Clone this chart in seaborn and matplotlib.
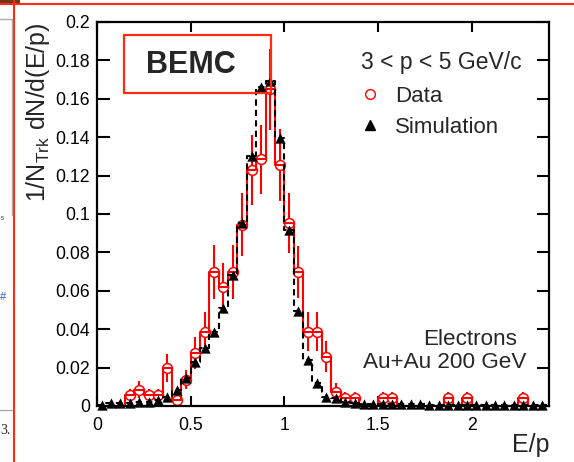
import numpy as np
import pandas as pd
import matplotlib
matplotlib.use("Agg")
import matplotlib.pyplot as plt
from matplotlib.lines import Line2D
from matplotlib.patches import Rectangle
import seaborn as sns

# E/p binning: 48 bins of 0.05 from 0 to 2.4
bin_edges = np.linspace(0, 2.4, 49)
bin_centers = 0.5 * (bin_edges[:-1] + bin_edges[1:])

data_vals = [0, 0, 0, 0.0057, 0.0084, 0.0057, 0.0057, 0.0197, 0.0031, 0.0136,
             0.0278, 0.0388, 0.0696, 0.0618, 0.0696, 0.0945, 0.1229, 0.1285, 0.165, 0.1255,
             0.0954, 0.0696, 0.0388, 0.0388, 0.0257, 0.0075, 0.004, 0.004, 0, 0,
             0.004, 0.004, 0, 0, 0, 0, 0, 0.004, 0, 0.004,
             0, 0, 0, 0, 0, 0.004, 0, 0]
data_errs = [0, 0, 0, 0.003, 0.0044, 0.003, 0.003, 0.0074, 0.003, 0.005,
             0.0083, 0.010, 0.014, 0.0126, 0.014, 0.0165, 0.018, 0.018, 0.021, 0.0187,
             0.0157, 0.0135, 0.0104, 0.0104, 0.008, 0.0045, 0.0035, 0.0035, 0, 0,
             0.0035, 0.0035, 0, 0, 0, 0, 0, 0.0035, 0, 0.0035,
             0, 0, 0, 0, 0, 0.0035, 0, 0]
sim_vals = [0.0005, 0.0017, 0.0017, 0.0017, 0.002, 0.0022, 0.0031, 0.0045, 0.0084, 0.0145,
            0.0231, 0.0301, 0.0383, 0.051, 0.0684, 0.0954, 0.130, 0.1659, 0.1693, 0.1398,
            0.0919, 0.0496, 0.024, 0.0118, 0.0049, 0.004, 0.0022, 0.0017, 0.0013, 0.0011,
            0.001, 0.0009, 0.0009, 0.0008, 0.0008, 0.0007, 0.0007, 0.0007, 0.0006, 0.0006,
            0.0006, 0.0005, 0.0005, 0.0005, 0.0005, 0.0004, 0.0004, 0.0004]

xticks = [0, 0.5, 1, 1.5, 2]
xtick_labels = ["0", "0.5", "1", "1.5", "2"]
yticks = [0, 0.02, 0.04, 0.06, 0.08, 0.1, 0.12, 0.14, 0.16, 0.18, 0.2]
ytick_labels = ["0", "0.02", "0.04", "0.06", "0.08", "0.1", "0.12", "0.14", "0.16", "0.18", "0.2"]

df = pd.DataFrame({"Ep": bin_centers, "data": data_vals, "err": data_errs, "sim": sim_vals})
df_data = df[df["data"] > 0]

sns.set_theme(style="ticks")
plt.rcParams["font.family"] = ["Liberation Sans", "DejaVu Sans"]

fig = plt.figure(figsize=(5.74, 4.62), dpi=100)
ax = fig.add_axes([97 / 574, 1 - 406 / 462, 452 / 574, 384 / 462])

# data: error bars, open circles, step outline
ax.errorbar(df_data["Ep"], df_data["data"], yerr=df_data["err"], fmt="none",
            ecolor="red", elinewidth=1.5, capsize=0, zorder=3)
sns.scatterplot(data=df_data, x="Ep", y="data", marker="o", s=50, color="white",
                edgecolor="red", linewidth=1.1, zorder=4, ax=ax, legend=False)
sns.histplot(data=df, x="Ep", weights="data", bins=list(bin_edges), element="step",
             fill=False, color="red", linewidth=1.5, zorder=5, ax=ax)

# simulation: dashed step + triangles
sns.histplot(data=df, x="Ep", weights="sim", bins=list(bin_edges), element="step",
             fill=False, color="black", linewidth=1.5, linestyle=(0, (3, 2)), zorder=6, ax=ax)
sns.scatterplot(data=df, x="Ep", y="sim", marker="^", s=55, color="black",
                edgecolor="black", linewidth=0, zorder=12, clip_on=False, ax=ax, legend=False)

ax.set_xlim(0, 2.413)
ax.set_ylim(0, 0.2)
ax.set_xticks(xticks)
ax.set_xticklabels(xtick_labels)
ax.set_yticks(yticks)
ax.set_yticklabels(ytick_labels)
ax.tick_params(axis="both", direction="in", top=True, right=True, width=1.5,
               labelsize=12.7, colors="black")
ax.tick_params(axis="y", length=9, pad=5)
ax.tick_params(axis="x", length=7, pad=8)
for sp in ax.spines.values():
    sp.set_linewidth(1.6)
    sp.set_color("black")
    sp.set_zorder(10)

ax.set_ylabel(r"1/N$_\mathregular{Trk}$ dN/d(E/p)", fontsize=18, loc="top")
ax.yaxis.set_label_coords(-0.10, 1.0)
ax.set_xlabel("E/p", fontsize=18, loc="right")
ax.xaxis.set_label_coords(1.0, -0.07)

handles = [Line2D([], [], marker="o", ls="none", mfc="white", mec="red", ms=7, mew=1),
           Line2D([], [], marker="^", ls="none", color="black", ms=7)]
ax.legend(handles, ["Data", "Simulation"], loc="upper left", bbox_to_anchor=(0.575, 0.833),
          frameon=False, fontsize=16, handletextpad=0.5, labelspacing=0.45,
          handlelength=1.2, borderpad=0, borderaxespad=0)

ax.text(0.94, 0.895, "3 < p < 5 GeV/c", transform=ax.transAxes, ha="right",
        va="center", fontsize=16.5)
ax.text(0.929, 0.172, "Electrons", transform=ax.transAxes, ha="right",
        va="center", fontsize=16.2)
ax.text(0.951, 0.112, "Au+Au 200 GeV", transform=ax.transAxes, ha="right",
        va="center", fontsize=16.2)

# BEMC label box
fig.add_artist(Rectangle((124 / 574, 1 - 93.3 / 462), 146.7 / 574, 58.3 / 462,
                         transform=fig.transFigure, fill=False, edgecolor="#ff2a10", lw=1.6))
fig.text(191 / 574, 1 - 64.7 / 462, "BEMC", ha="center", va="center",
         fontsize=22, fontweight="bold")

# screenshot edges
fig.add_artist(Line2D([14 / 574, 14 / 574], [0, 1], transform=fig.transFigure,
                      color="#ff2a10", lw=1.5))
fig.add_artist(Line2D([0, 1], [1 - 4 / 462, 1 - 4 / 462], transform=fig.transFigure,
                      color="#ff2a10", lw=1.5))
fig.add_artist(Rectangle((0, 1 - 3 / 462), 20 / 574, 3 / 462, transform=fig.transFigure,
                         color="#6b3a1e", lw=0))
fig.add_artist(Line2D([0, 12 / 574, 12 / 574], [1 - 19 / 462, 1 - 19 / 462, 1 - 215 / 462],
                      transform=fig.transFigure, color="#aaaaaa", lw=1))
fig.add_artist(Line2D([0, 12 / 574], [1 - 410 / 462, 1 - 410 / 462],
                      transform=fig.transFigure, color="#aaaaaa", lw=1))
fig.text(0, 1 - 430 / 462, "3.", fontsize=10, ha="left", va="center", family="Liberation Serif")
fig.text(1 / 574, 1 - 218 / 462, "5", fontsize=4, ha="left", va="center")
fig.text(0, 1 - 297 / 462, "#", fontsize=8, ha="left", va="center", color="#3050d0")

fig.savefig("out.png", dpi=100)
